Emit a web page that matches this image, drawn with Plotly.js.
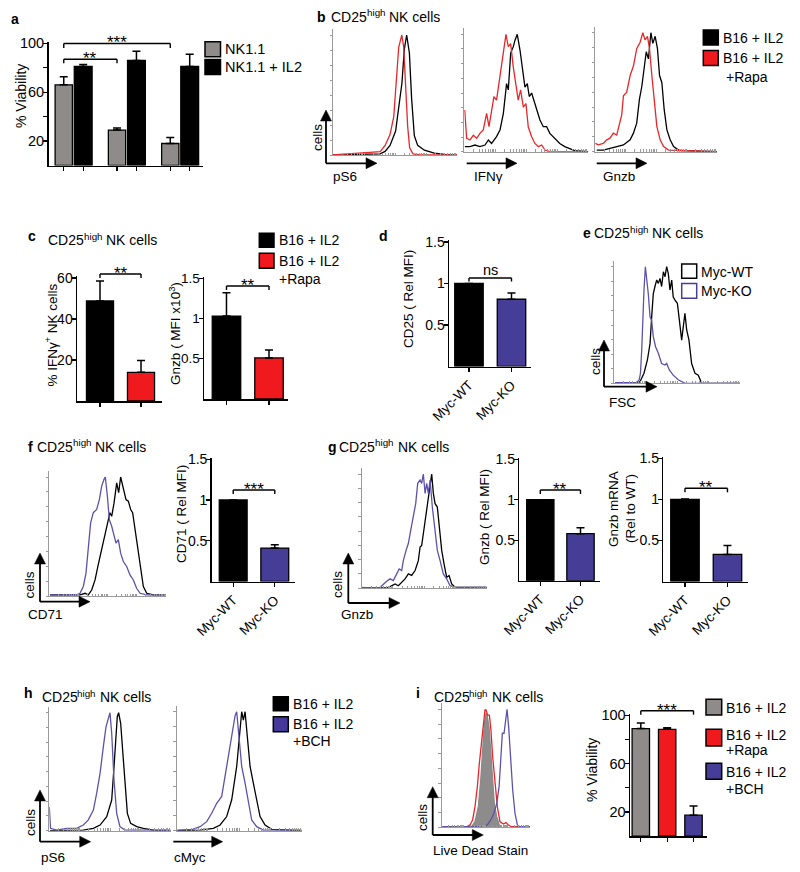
<!DOCTYPE html>
<html><head><meta charset="utf-8">
<script src="https://cdn.plot.ly/plotly-3.0.1.min.js"></script>
<style>html,body{margin:0;padding:0;background:#fff}</style>
</head><body><div id="chart" style="width:800px;height:872px"></div>
<script>
// ---------------- DATA ----------------
// a: % viability
const aGroups = [0, 1, 2];
const aNK11 = [66, 29, 18];
const aNK11Err = [6.7, 1.6, 5];
const aNK11IL2 = [81, 86, 81];
const aNK11IL2Err = [1.6, 7.4, 10];
const viabTicks = [20, 60, 100];
const viabMinorTicks = [40, 80];

// b: histograms (x = channel %, y = % of max)
const bPS6CtrlX = [0,38,42,46,50.5,53,55.6,57.5,59.4,61.6,63.4,65.6,68.3,73.7,81.7,89.8,100];
const bPS6CtrlY = [0,1,3,8,20,39,60,88,100,85,47,16,8,4,1.5,0.5,0];
const bPS6RapaX = [0,29.8,38,42,46,49,51,53,54.5,55.5,57,58.5,60.2,61.8,64.5,70,100];
const bPS6RapaY = [0,2,2.8,8,17,32,60,90,96,100,90,60,24,6,1,0,0];

const bIFNCtrlX = [0.5,4.6,8.6,12.6,16.7,19.4,22,26,28.8,31.5,34.1,35.5,37.4,39.5,40.9,42.7,44.9,46.8,48.9,50.8,52.4,54.3,56.2,58.3,61,63.7,66.4,69,71.8,74.5,77,81,85,89,100];
const bIFNCtrlY = [4.3,4.3,5.7,4.3,5.7,10,7,12.8,18.5,32.7,58,52.6,84,89.5,95,100,86.6,72,55,58,47,50,44,35.5,27,21.3,21.3,15.6,12.8,10,7,4.3,2.8,0.9,0];
const bIFNRapaX = [0.3,1.9,4.6,7.3,10,12.6,15.3,18,19.9,22,23.9,26,28.8,31.5,33.6,35.5,37.4,39.5,41.7,43.5,45.4,47.6,49.7,51.6,54.3,57,59.7,62.4,65,69,100];
const bIFNRapaY = [35.5,11.4,10,14,11.4,15.6,18.5,32.7,21.3,34,46.9,44,64,81,100,89.5,92,72,58,44,52.6,38,41,21,12.8,7,4.3,5.7,1.4,0,0];

const bGnzbCtrlX = [1.4,6.8,12.3,17.8,23.3,28.8,31.5,34.2,36.4,38.4,40.3,42,43.8,45.8,47.4,49.3,51.2,52.9,54.8,56.7,58.9,61.6,64.4,68.5,72.6,100];
const bGnzbCtrlY = [1.4,1.4,2.8,4.3,5.7,10,15.6,24,44,55,72,84,78,100,91,97,86.6,64,58,35.5,18.5,10,4.3,1.4,0.8,0];
const bGnzbRapaX = [0.3,2.7,6.8,9.6,12.3,15,17.8,20.5,21.9,23.3,26,28.8,31.5,34.2,37,39.2,41,43,44.7,46.6,48.5,50.7,53.4,56.2,60.3,100];
const bGnzbRapaY = [7,5.7,7,10,11.4,15.6,14,24,31,47,50,64,72,86.6,92,100,94,97,86.6,64,44,21.3,10,4.3,1.4,0];

// c: bar charts
const cGroups = ['B16 + IL2', 'B16 + IL2 +Rapa'];
const cIFNg = [48.8, 14];
const cIFNgErr = [9.7, 5.7];
const cGnzb = [1.03, 0.51];
const cGnzbErr = [0.29, 0.10];
const pctTicks = [20, 40, 60];
const relTicks = [0.5, 1, 1.5];
const relTickText = ['0.5', '1', '1.5'];

// d
const mycGroups = ['Myc-WT', 'Myc-KO'];
const dCD25 = [1.0, 0.81];
const dCD25Err = [0, 0.075];

// e: FSC histogram
const eWTX = [0.8,18,20.6,23.8,26.5,28.6,29.9,31.2,32.5,33.9,35.2,36.5,37.8,39.2,40.5,41.8,43.1,44.4,45.8,47,48.4,50.3,51.9,53.7,55,56.3,57.7,59.5,61.6,64.3,66.9,69.6,100];
const eWTY = [0,0,1.4,8.6,20,34,57,77,83,88.6,85.7,90,83,95.7,91.4,100,94,80,88.6,74,71.4,68.6,54,37,48.6,60,45.7,37,17,8.6,7,0,0];
const eKOX = [0.8,17.9,20,21,22,22.8,23.8,24.9,25.9,27.2,28.6,29.9,31.2,33,35.2,37.8,40.5,41.8,43.9,47,51,56.3,100];
const eKOY = [0.5,0.5,3,8.6,28.6,57,80,100,91,77,57,54,40,31.4,25.7,17,15.7,17,11.4,7,3,0,0];

// f
const fWTX = [0.6,26.4,30.7,33.5,36.4,39.3,42,45,47.9,49.9,52.1,53.6,55.6,57.9,59.6,61.3,63.6,65.9,67.9,69.9,71.6,73.6,75.6,77.9,80.8,83.7,89.4,100];
const fWTY = [1,1,2.3,1,5,13.5,26.2,38.9,51.5,58.6,70,67,78,95,86.8,100,89.6,81,79.7,72.7,70,55.8,41.7,24.8,7.9,2.3,1,1];
const fKOX = [0.6,23.5,26.4,29.2,31.5,33.5,35.5,37.8,40.7,43,45,47,48.1,49.9,51.6,53.6,55.6,57.3,59.3,61.3,63.6,66.5,69.3,72.2,75,78,83.7,100];
const fKOY = [1,1,2.3,8,19,41.7,61.4,70,72.7,81,92.4,98,100,84,64,58.6,50,44.5,47.3,36,29,24.8,17.7,13.5,6.5,2.3,1,1];
const fCD71 = [1.0, 0.41];
const fCD71Err = [0, 0.04];

// g
const gWTX = [0.5,20,22.7,26.7,29.3,32,34.7,37.3,40,42.7,45.3,46.7,48,49.3,51.5,53.3,54.7,56,57.3,58.7,60.5,62,64,65.9,68,69.9,72,74.7,100];
const gWTY = [0,0,1.2,3.5,2,5,8,12.4,11,15.3,24,36,37.4,47.6,65.3,80,91.8,100,83,74,71,53.5,33,21,9.4,11,3.5,0.6,0.6];
const gKOX = [0.5,6.7,14.7,17.3,20,22.7,25.3,28,30,32,33.3,35.5,37.3,39.2,41.3,43.2,44.8,46.7,48,49.3,50.7,52,53.3,54.7,56.5,58.7,60.5,62.7,65.3,68,70.7,74.7,100];
const gKOY = [0.6,0,0.6,3.5,5.9,8,6.5,12.4,16.8,15.3,24,33,39,50.6,62.4,74,91.8,94.7,91.8,100,83,91.8,83,94.7,71,47.6,33,24,12.4,8,2,0.6,0.6];
const gGnzbMFI = [1.0, 0.58];
const gGnzbMFIErr = [0, 0.075];
const gGnzbMRNA = [1.0, 0.33];
const gGnzbMRNAErr = [0.006, 0.11];

// h
const hPS6CtrlX = [0.5,28,36.3,41.8,47.3,51.4,53.3,55,56,57.1,58.8,60.4,62.4,64.3,67,72,77.5,85.7,100];
const hPS6CtrlY = [0,0.5,2,4.8,11.9,26,54,82.5,96.6,100,91,68.4,37.3,14.7,6.2,3.4,2,0.5,0];
const hPS6BCHX = [0,1,6,14.3,22.5,28,32,36.3,39,41.8,44.5,46.7,48.6,50,51.4,53.3,55.5,58.2,62.4,100];
const hPS6BCHY = [20,2,0.5,2,2,4.8,9,17.5,31.6,48.6,71,88,95,100,82.5,43,14.7,3.4,0.5,0.5];
const hMycCtrlX = [0.5,18.7,29.3,34.7,40,44,48,50,52,53.3,54.7,56.5,58.7,61.3,64,66.7,70.7,76,100];
const hMycCtrlY = [0,0.5,2,4.8,11.9,26,54,76,100,93,100,79,54,40,26,11.9,4.8,1.1,0];
const hMycBCHX = [0.5,12.8,18.7,24,28,32,36,38.7,42.7,44,46.7,48,50,52,54.7,57.3,60,64,69.3,100];
const hMycBCHY = [0.5,1.1,3.4,7.6,14.7,23,28.8,45.8,71,79.7,96.6,100,76,54,40,23,9,3.4,0.5,0.5];

// i
const iCtrlX = [34,37.7,41.5,44.2,46.4,48.3,50.2,51.7,53.6,55.5,57.4,59.6,62.3,65.3,68];
const iCtrlY = [0.5,4.8,17.5,40,65.5,88,96.6,93.8,85,65.5,40,20,9,2,0.5];
const iRapaX = [0.8,28.3,32,35,37.7,40.4,42.6,45.3,47.2,49,50.2,52,54,55.8,57.7,60.4,63,66,69.8,72.8,75.5,79,100];
const iRapaY = [0.5,0.5,2,6.2,17.5,34.5,54,74,91,99.4,99.4,95,95,82.5,60,37.3,17.5,4.8,2.8,4,2,0.5,0.5];
const iBCHX = [0.8,47.2,51.7,55.5,59.2,62.3,65,67.2,68.7,70.6,72.5,74,75.8,78,80.4,83,85.7,88.7,100];
const iBCHY = [0.5,0.5,2,6.2,11.9,20,34.5,68.4,79.7,79.7,91,100,85.3,57,31.6,11.9,2,0.5,0.5];
const iGroups = ['B16 + IL2', 'B16 + IL2 +Rapa', 'B16 + IL2 +BCH'];
const iViab = [89, 88.4, 17.4];
const iViabErr = [4.6, 1.4, 7.6];

// ---------------- STYLE / LAYOUT ----------------
const FONT = '"Liberation Sans", Arial, Helvetica, sans-serif';
const W = 800, H = 872;
const X = p => p / W, Y = p => 1 - p / H;
const RED = '#f0191e', REDL = '#e8262a', PURP = '#463d97', PURPL = '#5d52aa', GRAY = '#8f8b8a', GRAYF = '#8d8b8b';

const layout = {
  width: W, height: H, margin: {l: 0, r: 0, t: 0, b: 0, autoexpand: false},
  showlegend: false, paper_bgcolor: '#fff', plot_bgcolor: 'rgba(0,0,0,0)',
  font: {family: FONT, size: 13, color: '#000'}, barmode: 'group',
  shapes: [], annotations: []
};
const traces = [];
let n = 0;
function axes(x0, x1, ytop, ybot, xa, ya) {
  n++; const s = n === 1 ? '' : String(n);
  layout['xaxis' + s] = Object.assign({domain: [X(x0), X(x1)], anchor: 'y' + s}, xa);
  layout['yaxis' + s] = Object.assign({domain: [Y(ybot), Y(ytop)], anchor: 'x' + s}, ya);
  return {x: 'x' + s, y: 'y' + s};
}
const common = {showgrid: false, zeroline: false, fixedrange: true, showline: true};

function txt(x, y, text, size, opt) {
  opt = opt || {};
  const weight = opt.weight || 'normal';
  delete opt.weight;
  const a = Object.assign({xref: 'paper', yref: 'paper', x: X(x), y: Y(y), text: text, showarrow: false,
    xanchor: 'left', yanchor: 'middle', borderpad: 0,
    font: {family: FONT, size: size || 14, color: '#000', weight: weight}}, opt);
  layout.annotations.push(a);
}
function letter(x, y, t) { txt(x, y, t, 14, {weight: 'bold'}); }

// text with superscripts, built from separately sized pieces
const mctx = document.createElement('canvas').getContext('2d');
function tw(t, s) { mctx.font = s + 'px "Liberation Sans"'; return mctx.measureText(t).width; }
function rich(x, y, parts, rotated) {
  // parts: [text, size, raise]
  const total = parts.reduce((a, p) => a + tw(p[0], p[1]), 0);
  let cur = 0;
  parts.forEach(p => {
    const t = p[0], s = p[1], r = p[2] || 0;
    const trimmed = t.replace(/^\s+/, '');
    const lead = tw(t.slice(0, t.length - trimmed.length), s);
    const w = tw(trimmed, s);
    if (!rotated) {
      txt(x + cur + lead, y - r, trimmed, s);
    } else {
      const yc = y + total / 2 - (cur + lead + w / 2);
      txt(x - r, yc, trimmed, s, {textangle: -90, xanchor: 'center'});
    }
    cur += lead + w;
  });
}
function cdTitle(x, y) { rich(x, y, [['CD25', 14], ['high', 9.8, 4], [' NK cells', 14]]); }

function seg(x0, y0, x1, y1, w, c) {
  layout.shapes.push({type: 'line', xref: 'paper', yref: 'paper', x0: X(x0), y0: Y(y0), x1: X(x1), y1: Y(y1),
    line: {color: c || '#000', width: w || 1.8}});
}
function tri(pts) {
  const d = 'M' + pts.map(p => X(p[0]) + ',' + Y(p[1])).join('L') + 'Z';
  layout.shapes.push({type: 'path', xref: 'paper', yref: 'paper', path: d, fillcolor: '#000', line: {color: '#000', width: 0.5}});
}
function rect(x0, y0, x1, y1, fill, line) {
  layout.shapes.push({type: 'rect', xref: 'paper', yref: 'paper', x0: X(x0), x1: X(x1), y0: Y(y1), y1: Y(y0),
    fillcolor: fill, line: {color: line || '#000', width: 1.5}});
}
function arrowUp(x, yb, yt) { seg(x, yb, x, yt + 9); tri([[x - 5.5, yt + 11], [x + 5.5, yt + 11], [x, yt]]); }
function arrowRight(x0, y, xt) { seg(x0, y, xt - 9, y); tri([[xt - 11, y - 5.5], [xt - 11, y + 5.5], [xt, y]]); }

// histogram panel
const logTicks = [];
for (let d = 0; d < 4; d++) for (let k = 1; k < 10; k++) logTicks.push((d + Math.log10(k)) * 25);
logTicks.push(100);
function hist(x0, x1, yb, yp, curves) {
  const top = yb - (yb - yp) * 1.05;
  const id = axes(x0, x1, top, yb,
    Object.assign({}, common, {range: [0, 100], linecolor: '#9a9a9a', linewidth: 1, ticks: 'inside', ticklen: 2.5,
      tickcolor: '#9a9a9a', tickwidth: 1, tickvals: logTicks, showticklabels: false}),
    Object.assign({}, common, {range: [0, 105], linecolor: '#9a9a9a', linewidth: 1, ticks: 'outside', ticklen: 2.5,
      tickcolor: '#9a9a9a', tickwidth: 1, dtick: 12.5, tick0: 0, showticklabels: false}));
  curves.forEach(c => traces.push({type: 'scatter', mode: 'lines', x: c[0], y: c[1], xaxis: id.x, yaxis: id.y,
    line: {color: c[2], width: 1.3}, fill: c[3] ? 'tozeroy' : 'none', fillcolor: c[3] || undefined, hoverinfo: 'skip'}));
}

// bar panel
function barAxes(p) {
  const top = p.y0 - p.rmax * p.k;
  const ya = Object.assign({}, common, {range: [0, p.rmax], linecolor: '#000', linewidth: 1.5, ticks: 'outside', ticklen: 4,
      tickwidth: 1.3, tickcolor: '#000', tickvals: p.yt, ticktext: p.ytt, ticklabelstandoff: -4,
      tickfont: {family: FONT, size: p.fs || 14}});
  if (p.minor) ya.minor = {tickvals: p.minor, ticks: 'outside', ticklen: 4, tickwidth: 1.3, tickcolor: '#000', showgrid: false};
  return axes(p.x0, p.x1, top, p.y0,
    Object.assign({}, common, {type: p.xtype || 'category', range: p.xr, linecolor: '#000', linewidth: 1.5,
      ticks: 'outside', ticklen: 4, tickwidth: 1.3, tickcolor: '#000', showticklabels: !!p.labels,
      tickangle: -45, tickfont: {family: FONT, size: 13.5}, tickvals: p.tickvals}), ya);
}
function errY(e) { return {type: 'data', array: e, arrayminus: e.map(() => 0), symmetric: false, visible: true,
  color: '#000', thickness: 1.5, width: 4}; }
function bars(id, cats, vals, errs, colors, w) {
  traces.push({type: 'bar', x: cats, y: vals, width: w, marker: {color: colors, line: {color: '#000', width: 1.3}},
    error_y: errY(errs), xaxis: id.x, yaxis: id.y, hoverinfo: 'skip'});
}
function cx(p, i) { return p.x0 + (i - p.xr[0]) / (p.xr[1] - p.xr[0]) * (p.x1 - p.x0); }
function bracket(xa, xb, y, drop, label, ly, size) {
  seg(xa, y, xb, y, 1.4); seg(xa, y, xa, y + drop, 1.4); seg(xb, y, xb, y + drop, 1.4);
  txt((xa + xb) / 2, ly, label, size || 17, {xanchor: 'center'});
}

// ----- panel a -----
const pa = {x0: 48.5, x1: 203, y0: 165.5, k: 1.222, rmax: 101, xr: [-0.469, 2.432], xtype: 'linear',
  yt: viabTicks, ytt: viabTicks.map(String), minor: viabMinorTicks, fs: 14.5};
const aOff = 0.1825;
pa.tickvals = aGroups.flatMap(g => [g - aOff, g + aOff]);
const ida = barAxes(pa);
traces.push({type: 'bar', x: aGroups, y: aNK11, offset: -0.345, width: 0.325, marker: {color: GRAY, line: {color: '#000', width: 1.3}},
  error_y: errY(aNK11Err), xaxis: ida.x, yaxis: ida.y, hoverinfo: 'skip'});
traces.push({type: 'bar', x: aGroups, y: aNK11IL2, offset: 0.015, width: 0.335, marker: {color: '#000', line: {color: '#000', width: 1.3}},
  error_y: errY(aNK11IL2Err), xaxis: ida.x, yaxis: ida.y, hoverinfo: 'skip'});
bracket(cx(pa, -aOff), cx(pa, 2 - aOff), 43.5, 4.5, '***', 43);
bracket(cx(pa, -aOff), cx(pa, 1 - aOff), 59.3, 4, '**', 58.5);
letter(10, 19, 'a');
txt(21, 96, '% Viability', 14, {textangle: -90, xanchor: 'center'});
rect(205, 41.7, 220.5, 56.7, GRAY); rect(205, 59.5, 220.5, 74.5, '#000');
txt(224, 49.5, 'NK1.1', 14.5); txt(224, 67, 'NK1.1 + IL2', 14.5);

// ----- panel b -----
letter(316, 16.7, 'b');
cdTitle(330, 16.7);
hist(333, 457, 155, 35, [[bPS6CtrlX, bPS6CtrlY, '#000'], [bPS6RapaX, bPS6RapaY, REDL]]);
hist(464.3, 588.3, 151.7, 34.3, [[bIFNCtrlX, bIFNCtrlY, '#000'], [bIFNRapaX, bIFNRapaY, REDL]]);
hist(595, 717, 151.7, 32.7, [[bGnzbCtrlX, bGnzbCtrlY, '#000'], [bGnzbRapaX, bGnzbRapaY, REDL]]);
arrowUp(326, 163.3, 110); arrowRight(326, 163.3, 377);
arrowRight(466.7, 163.3, 517);
arrowRight(596.7, 163.3, 647);
txt(317, 138, 'cells', 13.5, {textangle: -90, xanchor: 'center'});
txt(332, 177, 'pS6', 13.5); txt(473, 177, 'IFNγ', 13.5); txt(601.5, 177, 'Gnzb', 13.5);
rect(703.3, 30, 718.3, 45, '#000'); rect(703.3, 50.5, 718.3, 65.5, RED);
txt(722, 37.5, 'B16 + IL2', 14); txt(722, 58.3, 'B16 + IL2', 14); txt(725, 76.7, '+Rapa', 14);

// ----- panel c -----
letter(27, 236, 'c');
cdTitle(47, 240);
const pc1 = {x0: 77, x1: 162, y0: 401, k: 2.05, rmax: 61, xr: [-0.561, 1.512], yt: pctTicks, ytt: pctTicks.map(String)};
const idc1 = barAxes(pc1);
bars(idc1, cGroups, cIFNg, cIFNgErr, ['#000', RED], 0.66);
bracket(cx(pc1, 0), cx(pc1, 1), 274, 4, '**', 273);
rich(52, 335, [['% IFNγ', 13.5], ['+', 9.5, 4], [' NK cells', 13.5]], true);
const pc2 = {x0: 204, x1: 288, y0: 399, k: 80.5, rmax: 1.52, xr: [-0.529, 1.447], yt: relTicks, ytt: relTickText, fs: 13.5};
const idc2 = barAxes(pc2);
bars(idc2, cGroups, cGnzb, cGnzbErr, ['#000', RED], 0.67);
bracket(cx(pc2, 0), cx(pc2, 1), 286, 4, '**', 285);
rich(176, 334, [['Gnzb ( MFI x10', 13.5], ['3', 9.5, 4], [')', 13.5]], true);
rect(259.3, 233.3, 274, 247.3, '#000'); rect(259.3, 253.3, 274, 268.3, RED);
txt(278, 240, 'B16 + IL2', 14); txt(278, 260.5, 'B16 + IL2', 14); txt(278, 278.5, '+Rapa', 14);

// ----- panel d -----
letter(378, 236, 'd');
const pd = {x0: 449, x1: 531, y0: 366.5, k: 83, rmax: 1.52, xr: [-0.47, 1.459], yt: relTicks, ytt: relTickText, labels: true};
const idd = barAxes(pd);
bars(idd, mycGroups, dCD25, dCD25Err, ['#000', PURP], 0.67);
bracket(cx(pd, 0), cx(pd, 1), 278, 3.5, 'ns', 270, 14.5);
txt(408, 299, 'CD25 ( Rel MFI)', 13.5, {textangle: -90, xanchor: 'center'});

// ----- panel e -----
letter(582, 233.3, 'e');
cdTitle(593, 233.3);
hist(614, 740, 383.3, 266.7, [[eWTX, eWTY, '#000'], [eKOX, eKOY, PURPL]]);
arrowUp(604, 386.7, 340); arrowRight(604, 386.7, 657);
txt(595, 362, 'cells', 13.5, {textangle: -90, xanchor: 'center'});
txt(608, 402, 'FSC', 13.5);
rect(681.7, 264, 696.7, 278.3, '#fff', '#000'); rect(681.7, 283.5, 696.7, 298.3, '#fff', PURP);
txt(700, 271.7, 'Myc-WT', 14); txt(700, 291, 'Myc-KO', 14);

// ----- panel f -----
letter(27, 446.7, 'f');
cdTitle(36, 446.7);
hist(49.3, 165.7, 596, 477, [[fWTX, fWTY, '#000'], [fKOX, fKOY, PURPL]]);
arrowUp(40, 601.7, 553); arrowRight(40, 601.7, 90);
txt(28.5, 585, 'cells', 13.5, {textangle: -90, xanchor: 'center'});
txt(27, 614, 'CD71', 13.5);
const pf = {x0: 211.7, x1: 295, y0: 581.5, k: 81.5, rmax: 1.52, xr: [-0.517, 1.486], yt: relTicks, ytt: relTickText, labels: true};
const idf = barAxes(pf);
bars(idf, mycGroups, fCD71, fCD71Err, ['#000', PURP], 0.67);
bracket(cx(pf, 0), cx(pf, 1), 490, 4, '***', 489);
txt(181, 514, 'CD71 ( Rel MFI)', 13.5, {textangle: -90, xanchor: 'center'});

// ----- panel g -----
letter(327, 446.7, 'g');
cdTitle(338.3, 446.7);
hist(361.7, 486.7, 588, 474, [[gWTX, gWTY, '#000'], [gKOX, gKOY, PURPL]]);
arrowUp(348.3, 603, 553); arrowRight(348.3, 603, 400);
txt(337, 585, 'cells', 13.5, {textangle: -90, xanchor: 'center'});
txt(340, 614, 'Gnzb', 13.5);
const pg1 = {x0: 519.3, x1: 600, y0: 580.7, k: 81, rmax: 1.52, xr: [-0.522, 1.485], yt: relTicks, ytt: relTickText, labels: true};
const idg1 = barAxes(pg1);
bars(idg1, mycGroups, gGnzbMFI, gGnzbMFIErr, ['#000', PURP], 0.68);
bracket(cx(pg1, 0), cx(pg1, 1), 490, 4, '**', 489);
txt(484, 517, 'Gnzb ( Rel MFI)', 13.5, {textangle: -90, xanchor: 'center'});
const pg2 = {x0: 663.3, x1: 748.3, y0: 581.5, k: 82, rmax: 1.52, xr: [-0.51, 1.49], yt: relTicks, ytt: relTickText, labels: true};
const idg2 = barAxes(pg2);
bars(idg2, mycGroups, gGnzbMRNA, gGnzbMRNAErr, ['#000', PURP], 0.67);
bracket(cx(pg2, 0), cx(pg2, 1), 488.3, 4, '**', 487.3);
txt(613, 509, 'Gnzb mRNA', 13.5, {textangle: -90, xanchor: 'center'});
txt(630, 509, '(Rel to WT)', 13.5, {textangle: -90, xanchor: 'center'});

// ----- panel h -----
letter(22.7, 693.3, 'h');
cdTitle(40.7, 697.3);
hist(49.3, 170.7, 830.7, 712.7, [[hPS6CtrlX, hPS6CtrlY, '#000'], [hPS6BCHX, hPS6BCHY, PURPL]]);
hist(176.7, 301.7, 830.7, 711.7, [[hMycCtrlX, hMycCtrlY, '#000'], [hMycBCHX, hMycBCHY, PURPL]]);
arrowUp(40, 841.7, 790); arrowRight(40, 841.7, 90.7);
arrowRight(173.3, 841.7, 222.7);
txt(30, 823, 'cells', 13.5, {textangle: -90, xanchor: 'center'});
txt(40, 857, 'pS6', 13.5); txt(173, 857, 'cMyc', 13.5);
rect(273.3, 696.7, 288.3, 710.7, '#000'); rect(273.3, 716.7, 288.3, 731.7, '#44389a');
txt(292, 703.7, 'B16 + IL2', 14); txt(292, 724, 'B16 + IL2', 14); txt(292, 740.5, '+BCH', 14);

// ----- panel i -----
letter(415, 693.3, 'i');
cdTitle(432.7, 697.3);
hist(441.7, 530, 827.3, 709.3, [[iCtrlX, iCtrlY, '#8a8a8a', GRAYF], [iRapaX, iRapaY, REDL], [iBCHX, iBCHY, PURPL]]);
arrowUp(432.7, 835, 786.7); arrowRight(432.7, 835, 483.3);
txt(422, 818, 'cells', 13.5, {textangle: -90, xanchor: 'center'});
txt(432, 850.5, 'Live Dead Stain', 13.5);
const pi = {x0: 630, x1: 706.7, y0: 836.2, k: 1.209, rmax: 101, xr: [-0.41, 2.5], yt: viabTicks, ytt: viabTicks.map(String), minor: viabMinorTicks, fs: 14.5};
const idi = barAxes(pi);
bars(idi, iGroups, iViab, iViabErr, [GRAY, RED, PURP], 0.66);
bracket(cx(pi, 0), cx(pi, 2), 710.7, 4, '***', 710);
txt(592, 770, '% Viability', 14, {textangle: -90, xanchor: 'center'});
rect(706, 699.3, 721.7, 715, GRAY); rect(706, 729.3, 721.7, 746, RED); rect(706, 763.3, 721.7, 779.3, PURP);
txt(725, 707.5, 'B16 + IL2', 14); txt(725, 734.5, 'B16 + IL2', 14); txt(725, 750, '+Rapa', 14);
txt(725, 771.7, 'B16 + IL2', 14); txt(725, 788.5, '+BCH', 14);

Plotly.newPlot('chart', traces, layout, {displayModeBar: false, staticPlot: true});
</script></body></html>
